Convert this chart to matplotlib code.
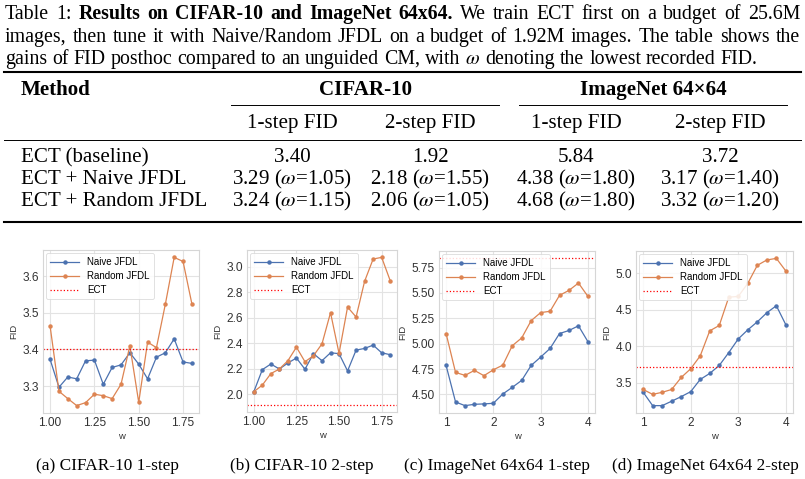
import matplotlib
matplotlib.use("Agg")
import matplotlib.pyplot as plt
from matplotlib.lines import Line2D
from matplotlib.ticker import MultipleLocator

W, H = 805, 479
plt.rcParams['mathtext.fontset'] = 'stix'
SERIF = 'Liberation Serif'
SANS = 'Liberation Sans'
TXT = 15.1          # table font size (pt)
CAP = 14.3          # caption font size (pt)
BLUE = '#4C72B0'
ORANGE = '#DD8452'

# ---- table data ----
methods = ["ECT (baseline)", "ECT + Naive JFDL", "ECT + Random JFDL"]
baseline_fid = [3.40, 1.92, 5.84, 3.72]
naive_fid = [3.29, 2.18, 4.38, 3.17]
naive_omega = [1.05, 1.55, 1.80, 1.40]
random_fid = [3.24, 2.06, 4.68, 3.32]
random_omega = [1.15, 1.05, 1.80, 1.20]
datasets = ["CIFAR-10", "ImageNet 64×64"]
sub_headers = ["1-step FID", "2-step FID", "1-step FID", "2-step FID"]

# ---- curve data ----
cifar_w = [1.00, 1.05, 1.10, 1.15, 1.20, 1.25, 1.30, 1.35, 1.40,
           1.45, 1.50, 1.55, 1.60, 1.65, 1.70, 1.75, 1.80]
cifar1_naive = [3.373, 3.297, 3.325, 3.320, 3.369, 3.371, 3.305, 3.351, 3.358,
                3.391, 3.360, 3.320, 3.379, 3.391, 3.429, 3.366, 3.362]
cifar1_random = [3.464, 3.286, 3.266, 3.247, 3.255, 3.278, 3.274, 3.266, 3.305,
                 3.410, 3.256, 3.420, 3.405, 3.523, 3.651, 3.640, 3.524]
cifar2_naive = [2.021, 2.194, 2.238, 2.199, 2.246, 2.285, 2.197, 2.319, 2.264,
                2.326, 2.319, 2.184, 2.347, 2.360, 2.386, 2.326, 2.311]
cifar2_random = [2.021, 2.073, 2.163, 2.199, 2.264, 2.370, 2.256, 2.303, 2.396,
                 2.640, 2.321, 2.684, 2.606, 2.886, 3.060, 3.073, 2.891]
imnet_w = [1.0, 1.2, 1.4, 1.6, 1.8, 2.0, 2.2, 2.4,
           2.6, 2.8, 3.0, 3.2, 3.4, 3.6, 3.8, 4.0]
imnet1_naive = [4.786, 4.426, 4.390, 4.403, 4.407, 4.413, 4.505, 4.570,
                4.639, 4.786, 4.868, 4.953, 5.100, 5.130, 5.176, 5.020]
imnet1_random = [5.100, 4.717, 4.688, 4.737, 4.685, 4.743, 4.789, 4.980,
                 5.057, 5.227, 5.306, 5.319, 5.476, 5.525, 5.597, 5.466]
imnet2_naive = [3.372, 3.188, 3.188, 3.249, 3.311, 3.379, 3.546, 3.628,
                3.737, 3.913, 4.100, 4.224, 4.333, 4.457, 4.553, 4.292]
imnet2_random = [3.409, 3.342, 3.370, 3.409, 3.573, 3.692, 3.868, 4.210,
                 4.283, 4.670, 4.680, 4.859, 5.105, 5.178, 5.200, 5.027]


def put(fig, x, y, s, ha='left', bold=False, size=TXT):
    # x, y in pixels from top-left, y is the baseline
    return fig.text(x / W, 1 - y / H, s, ha=ha, va='baseline', family=SERIF,
                    fontsize=size, fontweight='bold' if bold else 'normal')


def hrule(fig, x0, x1, y, lw):
    fig.add_artist(Line2D([x0 / W, x1 / W], [1 - y / H] * 2,
                          transform=fig.transFigure, lw=lw, color='black'))


def caption_line(fig, y, parts, x0=5, x1=800, justify=True):
    # lay the words out one by one so the line can be justified like LaTeX
    words = [(w, b) for txt, b in parts for w in txt.split()]
    arts = [put(fig, 0, y, w, bold=b, size=CAP) for w, b in words]
    r = fig.canvas.get_renderer()
    widths = [a.get_window_extent(r).width for a in arts]
    if justify:
        gap = ((x1 - x0) - sum(widths)) / (len(words) - 1)
    else:
        gap = CAP * 100 / 72 * 0.25
    x = x0
    for a, wd in zip(arts, widths):
        a.set_x(x / W)
        x += wd + gap


def panel(fig, rect, w, naive, random, ect, xstep, ystep, label, label_x):
    ax = fig.add_axes([rect[0] / W, 1 - rect[3] / H,
                       (rect[2] - rect[0]) / W, (rect[3] - rect[1]) / H])
    ax.plot(w, naive, '-o', color=BLUE, lw=0.9, ms=2.2, label='Naive JFDL')
    ax.plot(w, random, '-o', color=ORANGE, lw=0.9, ms=2.2, label='Random JFDL')
    ax.axhline(ect, color='red', ls=':', lw=0.9, label='ECT')
    ax.xaxis.set_major_locator(MultipleLocator(xstep))
    ax.yaxis.set_major_locator(MultipleLocator(ystep))
    ax.grid(True, color='#e3e3e3', lw=0.8)
    ax.set_axisbelow(True)
    for s in ax.spines.values():
        s.set_color('#d6d6d6')
        s.set_linewidth(0.8)
    ax.tick_params(length=0, pad=3, labelsize=8.6, labelcolor='#333333')
    for t in ax.get_xticklabels() + ax.get_yticklabels():
        t.set_family(SANS)
    ax.set_xlabel('w', family=SANS, fontsize=6.8, color='#333333', labelpad=2)
    ax.set_ylabel('FID', family=SANS, fontsize=6.8, color='#333333', labelpad=3)
    leg = ax.legend(loc='upper left', prop={'family': SANS, 'size': 7},
                    handlelength=3.0, borderaxespad=0.35, labelspacing=0.4,
                    framealpha=0.85)
    leg.get_frame().set_edgecolor('#d6d6d6')
    leg.get_frame().set_linewidth(0.6)
    put(fig, label_x, 470, label, ha='center', size=12.4)
    return ax


fig = plt.figure(figsize=(W / 100, H / 100), dpi=100)

# caption
caption_line(fig, 19, [("Table 1:", False),
                       ("Results on CIFAR-10 and ImageNet 64x64.", True),
                       ("We train ECT first on a budget of 25.6M", False)])
caption_line(fig, 42, [("images, then tune it with Naive/Random JFDL on a budget of "
                        "1.92M images. The table shows the", False)])
caption_line(fig, 64, [("gains of FID posthoc compared to an unguided CM, with", False),
                       ("$\\omega$", False),
                       ("denoting the lowest recorded FID.", False)], justify=False)

# table
col_x = [292, 430, 576, 720]
hrule(fig, 4, 801, 72, 1.5)
put(fig, 21, 95, "Method", bold=True)
put(fig, 365, 95, datasets[0], ha='center', bold=True)
put(fig, 653, 95, datasets[1], ha='center', bold=True)
hrule(fig, 231, 499, 104.5, 0.7)
hrule(fig, 519, 787, 104.5, 0.7)
for x, s in zip(col_x, sub_headers):
    put(fig, x, 128, s, ha='center')
hrule(fig, 4, 801, 140, 0.7)

rows = [[f"{v:.2f}" for v in baseline_fid],
        [f"{v:.2f} ($\\omega$={o:.2f})" for v, o in zip(naive_fid, naive_omega)],
        [f"{v:.2f} ($\\omega$={o:.2f})" for v, o in zip(random_fid, random_omega)]]
for y, name, vals in zip([162.5, 184.5, 206.5], methods, rows):
    put(fig, 21, y, name)
    for x, s in zip(col_x, vals):
        put(fig, x, y, s, ha='center')
hrule(fig, 4, 801, 222, 1.5)

# plots
panel(fig, (43, 250, 199, 413), cifar_w, cifar1_naive, cifar1_random, 3.40,
      0.25, 0.1, "(a) CIFAR-10 1-step", 108)
panel(fig, (247, 250, 397, 412), cifar_w, cifar2_naive, cifar2_random, 1.92,
      0.25, 0.2, "(b) CIFAR-10 2-step", 302)
panel(fig, (439, 251, 595, 413), imnet_w, imnet1_naive, imnet1_random, 5.84,
      1, 0.25, "(c) ImageNet 64x64 1-step", 497)
panel(fig, (636, 251, 793, 413), imnet_w, imnet2_naive, imnet2_random, 3.72,
      1, 0.5, "(d) ImageNet 64x64 2-step", 705)

fig.savefig("out.png", dpi=100)
